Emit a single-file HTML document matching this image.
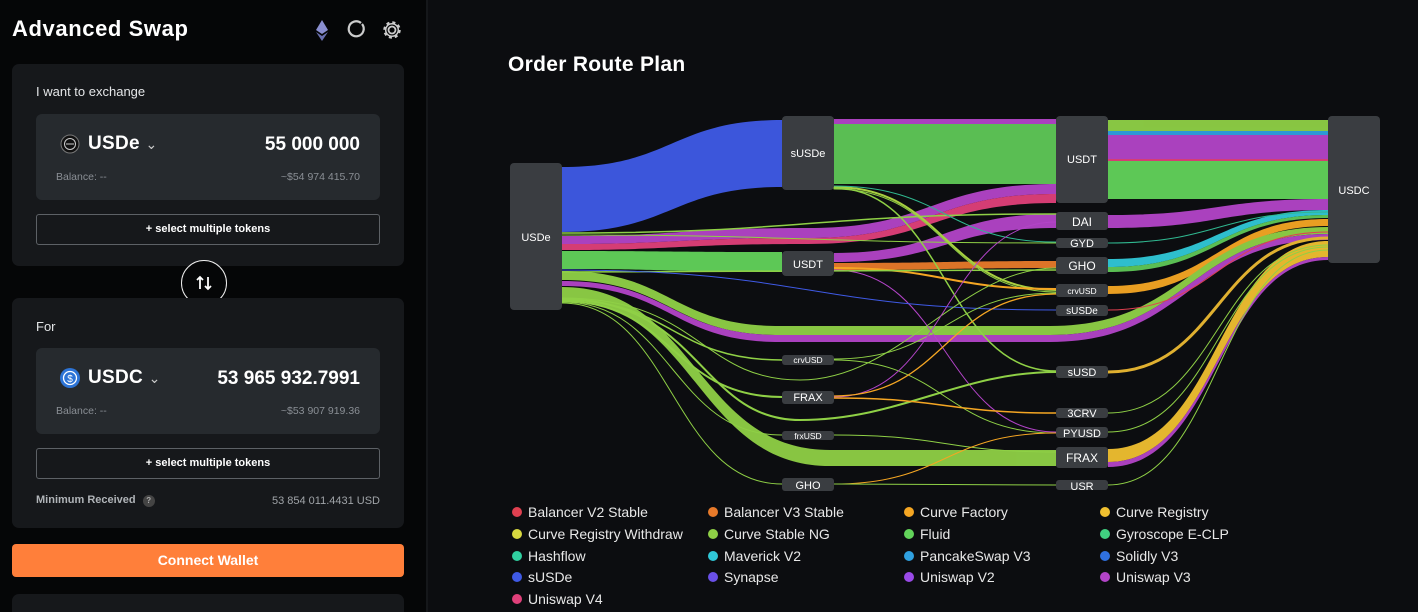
<!DOCTYPE html>
<html><head><meta charset="utf-8"><style>
*{margin:0;padding:0;box-sizing:border-box}
html,body{width:1418px;height:612px;overflow:hidden}
body{background:#0c0d10;font-family:"Liberation Sans",sans-serif;color:#fff;position:relative}
.lp{position:absolute;left:0;top:0;width:428px;height:612px;background:#050607;border-right:2px solid #15171a;overflow:hidden}
.a{position:absolute}
.card{position:absolute;left:12px;width:392px;background:#16181b;border-radius:7px}
.inner{position:absolute;left:24px;width:344px;height:86px;background:#262a2e;border-radius:6px}
.btn{position:absolute;left:24px;width:344px;height:31px;border:1px solid #5d6166;border-radius:3px;font-size:11px;font-weight:bold;text-align:center;line-height:29px}
.lab{font-size:13px;color:#e4e6e8}
.tok{font-size:19px;font-weight:bold;letter-spacing:.3px}
.amt{font-size:19px;font-weight:bold;right:20px;top:20px}
.bal{font-size:10.5px;color:#8a8f95}
</style></head><body>
<div class="lp">
<div class="a" style="left:12px;top:16px;font-size:22px;font-weight:bold;letter-spacing:.6px">Advanced Swap</div>
<svg class="a" style="left:312px;top:18px" width="90" height="26" viewBox="0 0 90 26">
<polygon points="10,2 16,12 10,16 4,12" fill="#8a8fd0"/><polygon points="10,18 16,14 10,23 4,14" fill="#6a70b0"/>
<path d="M49 5 A7.5 7.5 0 1 0 50 6" fill="none" stroke="#ccc" stroke-width="2.2"/>
<circle cx="80" cy="12" r="3.5" fill="none" stroke="#ccc" stroke-width="1.8"/>
<circle cx="80" cy="12" r="7.5" fill="none" stroke="#ccc" stroke-width="2.5" stroke-dasharray="3 2.9"/>
<circle cx="80" cy="12" r="6.3" fill="none" stroke="#ccc" stroke-width="1.5"/>
</svg>
<div class="card" style="top:64px;height:202px">
<div class="a lab" style="left:24px;top:20px">I want to exchange</div>
<div class="inner" style="top:50px">
<svg class="a" style="left:24px;top:20px" width="20" height="20"><circle cx="10" cy="10" r="9" fill="#111" stroke="#777"/><circle cx="10" cy="10" r="5.5" fill="none" stroke="#ccc"/><line x1="6" y1="10" x2="14" y2="10" stroke="#ccc"/></svg>
<div class="a tok" style="left:52px;top:19px">USDe <span style="font-weight:normal;font-size:14px;color:#ccc">&#8964;</span></div>
<div class="a amt">55 000 000</div>
<div class="a bal" style="left:20px;top:57px">Balance: --</div>
<div class="a bal" style="right:20px;top:57px">~$54 974 415.70</div>
</div>
<div class="btn" style="top:150px">+ select multiple tokens</div>
</div>
<div class="a" style="left:181px;top:260px;width:46px;height:46px;border:1.5px solid #eee;border-radius:50%;background:#050607"></div>
<svg class="a" style="left:194px;top:273px" width="20" height="20"><path d="M6 16V4M3 7l3-3 3 3M14 4v12M11 13l3 3 3-3" fill="none" stroke="#fff" stroke-width="1.8"/></svg>
<div class="card" style="top:298px;height:230px">
<div class="a lab" style="left:24px;top:21px">For</div>
<div class="inner" style="top:50px">
<svg class="a" style="left:24px;top:20px" width="20" height="20"><circle cx="10" cy="10" r="10" fill="#2d74d6"/><circle cx="10" cy="10" r="6.5" fill="none" stroke="#fff" stroke-width="1.3"/><text x="10" y="14" font-size="10" fill="#fff" text-anchor="middle" font-family="Liberation Sans">$</text></svg>
<div class="a tok" style="left:52px;top:19px">USDC <span style="font-weight:normal;font-size:14px;color:#ccc">&#8964;</span></div>
<div class="a amt">53 965 932.7991</div>
<div class="a bal" style="left:20px;top:57px">Balance: --</div>
<div class="a bal" style="right:20px;top:57px">~$53 907 919.36</div>
</div>
<div class="btn" style="top:150px">+ select multiple tokens</div>
<div class="a" style="left:24px;top:196px;font-size:11px;font-weight:bold;color:#b0b4b8">Minimum Received <span style="display:inline-block;width:12px;height:12px;border-radius:50%;background:#444;color:#aaa;font-size:8px;text-align:center;line-height:12px;margin-left:4px">?</span></div>
<div class="a" style="right:24px;top:197px;font-size:11px;color:#a0a4a8">53 854 011.4431 USD</div>
</div>
<div class="a" style="left:12px;top:544px;width:392px;height:33px;background:#ff7f3a;border-radius:4px;text-align:center;line-height:33px;font-size:14px;font-weight:bold">Connect Wallet</div>
<div class="card" style="top:594px;height:18px;border-radius:7px 7px 0 0"></div>
</div>
<div class="a" style="left:508px;top:53px;font-size:21px;font-weight:bold;letter-spacing:.3px">Order Route Plan</div>
<svg class="a" style="left:0;top:0" width="1418" height="612" viewBox="0 0 1418 612">
<g opacity="0.95">
<path d="M562 167C672 167 672 120 782 120L782 187C672 187 672 232 562 232Z" fill="#3f5ae6"/>
<rect x="834" y="119" width="222" height="5" fill="#b344c8"/>
<rect x="834" y="124" width="222" height="60" fill="#5fc857"/>
<rect x="1108" y="120" width="220" height="11" fill="#8fd046"/>
<rect x="1108" y="131" width="220" height="4" fill="#2fa0e0"/>
<rect x="1108" y="135" width="220" height="24" fill="#b344c8"/>
<rect x="1108" y="159" width="220" height="2" fill="#e0407a"/>
<rect x="1108" y="161" width="220" height="38" fill="#62d35a"/>
<path d="M562 236C680 236 680 228 808 228C932 228 932 184 1056 184L1056 194C932 194 932 238 808 238C680 238 680 244 562 244Z" fill="#b344c8"/>
<path d="M562 244C680 244 680 238 808 238C932 238 932 194 1056 194L1056 203C932 203 932 244 808 244C680 244 680 250 562 250Z" fill="#e0407a"/>
<path d="M562 251C672 251 672 252 782 252L782 272C672 272 672 269 562 269Z" fill="#62d35a"/>
<path d="M834 253C945 253 945 214 1056 214L1056 228C945 228 945 262 834 262Z" fill="#b344c8"/>
<path d="M834 263C945 263 945 261 1056 261L1056 268C945 268 945 270 834 270Z" fill="#e87a2a"/>
<path d="M1108 215C1218 215 1218 199 1328 199L1328 210C1218 210 1218 228 1108 228Z" fill="#b344c8"/>
<path d="M1108 259C1218 259 1218 210 1328 210L1328 215C1218 215 1218 267 1108 267Z" fill="#30c8d8"/>
<path d="M1108 267C1218 267 1218 215 1328 215L1328 218C1218 218 1218 272 1108 272Z" fill="#5fc857"/>
<path d="M1108 286C1218 286 1218 219 1328 219L1328 226C1218 226 1218 294 1108 294Z" fill="#f5a623"/>
<path d="M562 271C671 271 671 326 780 326L1050 326C1189 326 1189 227 1328 227L1328 234C1189 234 1189 335 1050 335L780 335C671 335 671 280 562 280Z" fill="#8fd046"/>
<path d="M562 281C671 281 671 335 780 335L1050 335C1189 335 1189 234 1328 234L1328 240C1189 240 1189 342 1050 342L780 342C671 342 671 286 562 286Z" fill="#b344c8"/>
<path d="M562 287C696 287 696 450 830 450L1056 450L1056 466L830 466C696 466 696 300 562 300Z" fill="#8fd046"/>
<path d="M1108 449C1218 449 1218 241 1328 241L1328 257C1218 257 1218 462 1108 462Z" fill="#f0c030"/>
<path d="M1108 462C1218 462 1218 257 1328 257L1328 260C1218 260 1218 467 1108 467Z" fill="#b344c8"/>
</g>
<g fill="none" stroke-linecap="round">
<path d="M1108 372C1218 372 1218 238 1328 238" stroke="#e0b030" stroke-width="3"/>
<path d="M562 233C809 233 809 214 1056 214" stroke="#8fd046" stroke-width="1.5"/>
<path d="M562 235C809 235 809 243 1056 243" stroke="#8fd046" stroke-width="1"/>
<path d="M834 187C945 187 945 290 1056 290" stroke="#a8d040" stroke-width="2"/>
<path d="M834 188C945 188 945 371 1056 371" stroke="#8fd046" stroke-width="1.5"/>
<path d="M834 186C945 186 945 242 1056 242" stroke="#30b890" stroke-width="1"/>
<path d="M834 189C945 189 945 292 1056 292" stroke="#8fd046" stroke-width="1"/>
<path d="M834 270C945 270 945 432 1056 432" stroke="#b344c8" stroke-width="1"/>
<path d="M834 268C945 268 945 289 1056 289" stroke="#f5a623" stroke-width="2"/>
<path d="M562 272C809 272 809 270 1056 270" stroke="#8fd046" stroke-width="1.5"/>
<path d="M562 270C809 270 809 310 1056 310" stroke="#3f5ae6" stroke-width="1"/>
<path d="M562 300C672 300 672 360 782 360" stroke="#8fd046" stroke-width="1.5"/>
<path d="M562 301C672 301 672 397 782 397" stroke="#8fd046" stroke-width="2"/>
<path d="M562 302C672 302 672 435 782 435" stroke="#8fd046" stroke-width="1"/>
<path d="M562 303C672 303 672 484 782 484" stroke="#8fd046" stroke-width="1"/>
<path d="M562 299C700 299 700 420 800 420C900 420 960 372 1056 372" stroke="#8fd046" stroke-width="2"/>
<path d="M562 298C700 298 700 380 800 380C900 380 960 268 1056 268" stroke="#8fd046" stroke-width="1"/>
<path d="M834 359C945 359 945 293 1056 293" stroke="#8fd046" stroke-width="1"/>
<path d="M834 360C945 360 945 433 1056 433" stroke="#8fd046" stroke-width="1"/>
<path d="M834 397C945 397 945 222 1056 222" stroke="#b344c8" stroke-width="1"/>
<path d="M834 396C945 396 945 294 1056 294" stroke="#f5a623" stroke-width="1.3"/>
<path d="M834 398C945 398 945 413 1056 413" stroke="#f5a623" stroke-width="1.5"/>
<path d="M834 435C945 435 945 452 1056 452" stroke="#8fd046" stroke-width="1"/>
<path d="M834 484C945 484 945 433 1056 433" stroke="#f5a623" stroke-width="1"/>
<path d="M834 484C945 484 945 485 1056 485" stroke="#8fd046" stroke-width="1"/>
<path d="M1108 413C1218 413 1218 245 1328 245" stroke="#8fd046" stroke-width="1"/>
<path d="M1108 432C1218 432 1218 247 1328 247" stroke="#8fd046" stroke-width="1"/>
<path d="M1108 485C1218 485 1218 250 1328 250" stroke="#8fd046" stroke-width="1"/>
<path d="M1108 310C1218 310 1218 232 1328 232" stroke="#e04050" stroke-width="1"/>
<path d="M1108 243C1218 243 1218 212 1328 212" stroke="#30b890" stroke-width="1"/>
</g>
<g fill="#3a3d41">
<rect x="510" y="163" width="52" height="147" rx="4"/>
<rect x="782" y="116" width="52" height="74" rx="4"/>
<rect x="782" y="251" width="52" height="25" rx="4"/>
<rect x="782" y="355" width="52" height="10" rx="3"/>
<rect x="782" y="391" width="52" height="13" rx="3"/>
<rect x="782" y="431" width="52" height="9" rx="3"/>
<rect x="782" y="478" width="52" height="13" rx="3"/>
<rect x="1056" y="116" width="52" height="87" rx="4"/>
<rect x="1056" y="212" width="52" height="18" rx="3"/>
<rect x="1056" y="238" width="52" height="10" rx="3"/>
<rect x="1056" y="257" width="52" height="17" rx="3"/>
<rect x="1056" y="284" width="52" height="13" rx="3"/>
<rect x="1056" y="305" width="52" height="11" rx="3"/>
<rect x="1056" y="366" width="52" height="12" rx="3"/>
<rect x="1056" y="408" width="52" height="10" rx="3"/>
<rect x="1056" y="427" width="52" height="11" rx="3"/>
<rect x="1056" y="447" width="52" height="21" rx="3"/>
<rect x="1056" y="480" width="52" height="10" rx="3"/>
<rect x="1328" y="116" width="52" height="147" rx="4"/>
</g>
<g fill="#fff" font-family="Liberation Sans" text-anchor="middle" font-size="11">
<text x="536" y="241">USDe</text>
<text x="808" y="157">sUSDe</text>
<text x="808" y="268">USDT</text>
<text x="808" y="363" font-size="8.5">crvUSD</text>
<text x="808" y="401" font-size="11">FRAX</text>
<text x="808" y="439" font-size="8.5">frxUSD</text>
<text x="808" y="489" font-size="11">GHO</text>
<text x="1082" y="163">USDT</text>
<text x="1082" y="226" font-size="12">DAI</text>
<text x="1082" y="247" font-size="11">GYD</text>
<text x="1082" y="270" font-size="12">GHO</text>
<text x="1082" y="294" font-size="8.5">crvUSD</text>
<text x="1082" y="314" font-size="10">sUSDe</text>
<text x="1082" y="376">sUSD</text>
<text x="1082" y="417">3CRV</text>
<text x="1082" y="437">PYUSD</text>
<text x="1082" y="462" font-size="12">FRAX</text>
<text x="1082" y="490">USR</text>
<text x="1354" y="194">USDC</text>
</g>
<g font-family="Liberation Sans" font-size="14" fill="#e8e8e8">
<circle cx="517" cy="512" r="5" fill="#e04050"/><text x="528" y="517">Balancer V2 Stable</text>
<circle cx="713" cy="512" r="5" fill="#e87a2a"/><text x="724" y="517">Balancer V3 Stable</text>
<circle cx="909" cy="512" r="5" fill="#f5a623"/><text x="920" y="517">Curve Factory</text>
<circle cx="1105" cy="512" r="5" fill="#f0c030"/><text x="1116" y="517">Curve Registry</text>
<circle cx="517" cy="534" r="5" fill="#d8d840"/><text x="528" y="539">Curve Registry Withdraw</text>
<circle cx="713" cy="534" r="5" fill="#8fd046"/><text x="724" y="539">Curve Stable NG</text>
<circle cx="909" cy="534" r="5" fill="#62d35a"/><text x="920" y="539">Fluid</text>
<circle cx="1105" cy="534" r="5" fill="#40d080"/><text x="1116" y="539">Gyroscope E-CLP</text>
<circle cx="517" cy="556" r="5" fill="#30d0a0"/><text x="528" y="561">Hashflow</text>
<circle cx="713" cy="556" r="5" fill="#30c8d8"/><text x="724" y="561">Maverick V2</text>
<circle cx="909" cy="556" r="5" fill="#2fa0e0"/><text x="920" y="561">PancakeSwap V3</text>
<circle cx="1105" cy="556" r="5" fill="#2f70e0"/><text x="1116" y="561">Solidly V3</text>
<circle cx="517" cy="577" r="5" fill="#3f5ae6"/><text x="528" y="582">sUSDe</text>
<circle cx="713" cy="577" r="5" fill="#6a50e8"/><text x="724" y="582">Synapse</text>
<circle cx="909" cy="577" r="5" fill="#9a4ae8"/><text x="920" y="582">Uniswap V2</text>
<circle cx="1105" cy="577" r="5" fill="#b344c8"/><text x="1116" y="582">Uniswap V3</text>
<circle cx="517" cy="599" r="5" fill="#e0407a"/><text x="528" y="604">Uniswap V4</text>
</g>
</svg>
</body></html>
